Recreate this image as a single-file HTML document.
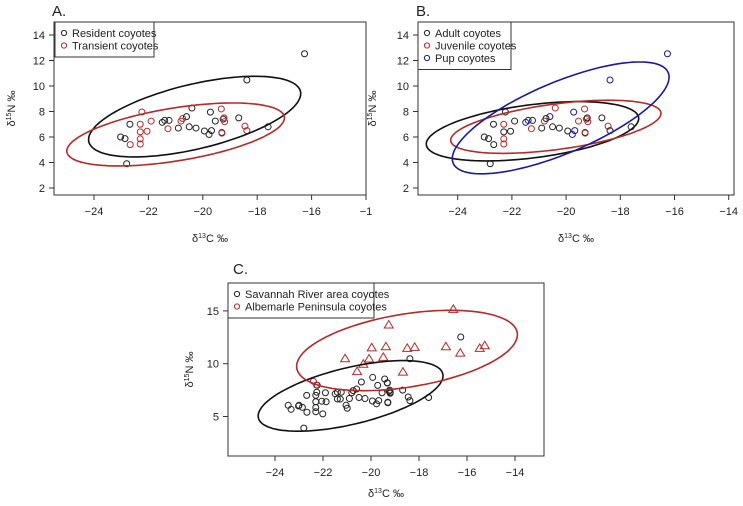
<!DOCTYPE html>
<html><head><meta charset="utf-8"><style>
html,body{margin:0;padding:0;background:#fff;width:743px;height:506px;overflow:hidden}
svg{display:block;font-family:"Liberation Sans",sans-serif}
</style></head><body>
<svg id="fig" width="743" height="506" viewBox="0 0 743 506"></svg>
<script>
// ---- Panel A/B shared data (delta13C, delta15N) ----
const resX=[-23.02,-22.86,-22.68,-22.8,-21.49,-21.4,-21.24,-20.9,-20.6,-20.5,-20.4,-20.25,-19.94,-19.77,-19.72,-19.68,-19.54,-19.3,-19.25,-18.68,-18.38,-17.6,-16.26];
const resY=[6.0,5.87,7.0,3.9,7.15,7.3,7.3,6.7,7.6,6.8,8.27,6.7,6.47,6.2,7.95,6.5,7.25,6.35,7.4,7.5,10.47,6.8,12.53];
const traX=[-22.24,-22.3,-22.3,-22.3,-22.3,-22.67,-22.05,-21.9,-21.28,-20.8,-20.74,-19.32,-19.2,-19.22,-18.45,-18.38,-19.3];
const traY=[7.96,7.0,6.4,5.85,5.45,5.4,6.45,7.25,6.65,7.25,7.45,8.2,7.2,7.5,6.85,6.5,6.3];
// Panel B groups (index into combined resident+transient list): 0 adult,1 juvenile,2 pup
const resGroup=[0,0,0,0,2,2,0,0,2,0,1,0,0,2,2,2,1,0,1,0,2,0,2];
const traGroup=[0,1,0,1,1,0,0,0,1,1,0,1,1,0,1,0,1];
// Panel C extra Savannah River points
const srsExtraX=[-23.45,-23.33,-23.0,-22.01,-21.87,-21.4,-21.04,-20.99,-19.93,-19.43,-19.32,-19.2,-22.26];
const srsExtraY=[6.06,5.68,6.06,5.25,6.4,6.66,6.06,5.78,8.7,8.55,8.17,7.3,7.3];
const apX=[-21.08,-20.58,-20.32,-20.08,-19.97,-19.49,-19.38,-19.26,-18.67,-18.49,-18.18,-16.88,-16.57,-16.28,-15.47,-15.26];
const apY=[10.47,9.25,9.95,10.45,11.5,10.6,11.6,13.66,9.2,11.45,11.55,11.6,15.15,11.0,11.45,11.7];
const apCircX=[-22.4,-22.27];
const apCircY=[8.33,7.98];
// Ellipses: center, conjugate half-vector u, vertical half-chord h (data units)
const ellA=[{c:[-20.3,7.6],u:[3.9,1.8],h:2.6,col:"#111"},{c:[-21.0,6.2],u:[4.0,1.3],h:2.1,col:"#b52a2a"}];
const ellB=[{c:[-21.24,6.45],u:[3.92,1.0],h:2.1,col:"#111"},{c:[-20.38,6.8],u:[3.88,1.05],h:1.8,col:"#b52a2a"},{c:[-20.2,7.5],u:[4.0,3.2],h:3.0,col:"#1a1aa0"}];
const ellC=[{c:[-20.85,6.95],u:[3.85,1.9],h:2.75,col:"#111"},{c:[-18.5,11.25],u:[4.6,1.5],h:3.5,col:"#b52a2a"}];
const xTicksAB=[-24,-22,-20,-18,-16,-14];
const xTickLabA=["\u221224","\u221222","\u221220","\u221218","\u221216","\u22121"];
const xTickLabB=["\u221224","\u221222","\u221220","\u221218","\u221216","\u221214"];
const yTicksAB=[2,4,6,8,10,12,14];
const xTicksC=[-24,-22,-20,-18,-16,-14];
const yTicksC=[5,10,15];

const NS="http://www.w3.org/2000/svg";
const svg=document.getElementById('fig');
const BLACK="#222",RED="#b52a2a",BLUE="#1a1aa0",COLS=[BLACK,RED,BLUE];
function mk(tag,attrs,parent){const e=document.createElementNS(NS,tag);for(const k in attrs)e.setAttribute(k,attrs[k]);(parent||svg).appendChild(e);return e;}

function panel(p){
  const g=mk('g',{});
  
  
  const sx=v=>p.x0+(v-p.xv0)*p.kx, sy=v=>p.y0-(v-p.yv0)*p.ky;
  p.sx=sx;p.sy=sy;p.g=g;
  const box=mk('rect',{x:p.L,y:p.T,width:p.R-p.L,height:p.B-p.T,fill:"none",stroke:"#333","stroke-width":1},g);
  
  
  const xa=mk('g',{},g);
  
  
  p.xt.forEach((v,i)=>{const x=sx(v);
    mk('line',{x1:x,x2:x,y1:p.B,y2:p.B+5,stroke:"#333"},xa);
    const t=mk('text',{x:x,y:p.B+20,"text-anchor":"middle","font-size":11,fill:"#222"},xa);t.textContent=p.xl[i];
    
    });
  const ya=mk('g',{},g);
  
  
  p.yt.forEach(v=>{const y=sy(v);
    mk('line',{x1:p.L,x2:p.L-5,y1:y,y2:y,stroke:"#333"},ya);
    const t=mk('text',{x:p.L-9,y:y+4,"text-anchor":"end","font-size":11,fill:"#222"},ya);t.textContent=v;
    
    });
  const xt=mk('text',{x:(p.L+p.R)/2,y:p.xlabY,"text-anchor":"middle","font-size":11,fill:"#222"},g);
  xt.innerHTML='\u03b4<tspan dy="-4" font-size="7">13</tspan><tspan dy="4">C \u2030</tspan>';
  
  
  const cy=(p.T+p.B)/2;
  const yt=mk('text',{x:p.ylabX,y:cy,"text-anchor":"middle","font-size":11,fill:"#222",transform:`rotate(-90 ${p.ylabX} ${cy})`},g);
  yt.innerHTML='\u03b4<tspan dy="-4" font-size="7">15</tspan><tspan dy="4">N \u2030</tspan>';
  
  
  const ti=mk('text',{x:p.titleX,y:p.titleY,"font-size":15,fill:"#222"},g);ti.textContent=p.id+'.';
  
  
  return p;
}
function pt(p,x,y,col,name){const c=mk('circle',{cx:p.sx(x),cy:p.sy(y),r:3,fill:"none",stroke:col,"stroke-width":1},p.g);
  
  }
function tri(p,x,y,col){const X=p.sx(x),Y=p.sy(y);
  const t=mk('polygon',{points:`${X},${Y-4.5} ${X-4.5},${Y+3} ${X+4.5},${Y+3}`,fill:"none",stroke:col,"stroke-width":1},p.g);
  
  }
function ell(p,e,name){let d='';for(let i=0;i<=120;i++){const t=i/120*2*Math.PI;
  const x=e.c[0]+e.u[0]*Math.cos(t), y=e.c[1]+e.u[1]*Math.cos(t)+e.h*Math.sin(t);
  d+=(i?'L':'M')+p.sx(x).toFixed(1)+','+p.sy(y).toFixed(1);}
  const el=mk('path',{d:d+'Z',fill:"none",stroke:e.col,"stroke-width":1.6},p.g);
  
  }
function legend(p,x,y,w,items){const lg=mk('g',{},p.g);
  
  
  mk('rect',{x:x,y:y,width:w,height:items.length*12.5+10,fill:"#fff",stroke:"#333"},lg);
  items.forEach((it,i)=>{const yy=y+11+i*12.5;
    mk('circle',{cx:x+9,cy:yy,r:2.6,fill:"none",stroke:it[1]},lg);
    const t=mk('text',{x:x+17,y:yy+4,"font-size":11,fill:"#222"},lg);t.textContent=it[0];
    
    });}

// Panel A
const A=panel({id:'A',L:54,R:366,T:22,B:195,x0:94,xv0:-24,kx:27.2,y0:188,yv0:2,ky:12.75,xt:xTicksAB,xl:xTickLabA,yt:yTicksAB,xlabY:242,ylabX:15,titleX:52,titleY:16});
resX.forEach((x,i)=>pt(A,x,resY[i],BLACK,'resident-point'));
traX.forEach((x,i)=>pt(A,x,traY[i],RED,'transient-point'));
ell(A,ellA[0],'resident-ellipse');ell(A,ellA[1],'transient-ellipse');
legend(A,55,22,99,[["Resident coyotes",BLACK],["Transient coyotes",RED]]);

// Panel B
const B=panel({id:'B',L:418,R:734,T:22,B:195,x0:457.7,xv0:-24,kx:27.1,y0:188,yv0:2,ky:12.75,xt:xTicksAB,xl:xTickLabB,yt:yTicksAB,xlabY:242,ylabX:376,titleX:416,titleY:16});
resX.forEach((x,i)=>pt(B,x,resY[i],COLS[resGroup[i]],'age-group-point'));
traX.forEach((x,i)=>pt(B,x,traY[i],COLS[traGroup[i]],'age-group-point'));
ell(B,ellB[0],'adult-ellipse');ell(B,ellB[1],'juvenile-ellipse');ell(B,ellB[2],'pup-ellipse');
legend(B,418,22,93,[["Adult coyotes",BLACK],["Juvenile coyotes",RED],["Pup coyotes",BLUE]]);

// Panel C
const C=panel({id:'C',L:228,R:544,T:283,B:456,x0:275,xv0:-24,kx:24,y0:363.7,yv0:10,ky:10.56,xt:xTicksC,xl:xTickLabB,yt:yTicksC,xlabY:497,ylabX:193,titleX:233,titleY:274});
resX.forEach((x,i)=>pt(C,x,resY[i],BLACK,'savannah-point'));
traX.forEach((x,i)=>pt(C,x,traY[i],BLACK,'savannah-point'));
srsExtraX.forEach((x,i)=>pt(C,x,srsExtraY[i],BLACK,'savannah-point'));
apCircX.forEach((x,i)=>pt(C,x,apCircY[i],RED,'albemarle-circle-point'));
apX.forEach((x,i)=>tri(C,x,apY[i],RED));
ell(C,ellC[0],'savannah-ellipse');ell(C,ellC[1],'albemarle-ellipse');
legend(C,228,283,146,[["Savannah River area coyotes",BLACK],["Albemarle Peninsula coyotes",RED]]);
</script>
</body></html>
